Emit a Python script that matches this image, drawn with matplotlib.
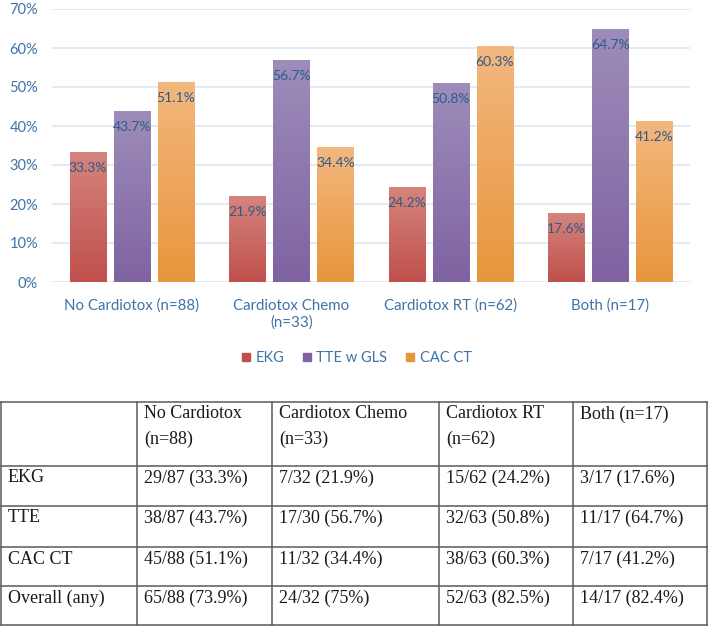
import numpy as np
import matplotlib
matplotlib.use("Agg")
import matplotlib.pyplot as plt
from matplotlib.colors import LinearSegmentedColormap
from matplotlib.patches import Patch

# Chart data
groups = ["No Cardiotox (n=88)", "Cardiotox Chemo\n(n=33)", "Cardiotox RT (n=62)", "Both (n=17)"]
series = ["EKG", "TTE w GLS", "CAC CT"]
ekg = [33.3, 21.9, 24.2, 17.6]
tte = [43.7, 56.7, 50.8, 64.7]
cac = [51.1, 34.4, 60.3, 41.2]

# Table data
col_heads = ["No Cardiotox\n(n=88)", "Cardiotox Chemo\n(n=33)", "Cardiotox RT\n(n=62)", "Both (n=17)"]
row_heads = ["EKG", "TTE", "CAC CT", "Overall (any)"]
cells = [
    ["29/87 (33.3%)", "7/32 (21.9%)", "15/62 (24.2%)", "3/17 (17.6%)"],
    ["38/87 (43.7%)", "17/30 (56.7%)", "32/63 (50.8%)", "11/17 (64.7%)"],
    ["45/88 (51.1%)", "11/32 (34.4%)", "38/63 (60.3%)", "7/17 (41.2%)"],
    ["65/88 (73.9%)", "24/32 (75%)", "52/63 (82.5%)", "14/17 (82.4%)"],
]

# gradient colours (top, bottom)
grads = [("#d5847c", "#c0504d"), ("#9d8dba", "#7f63a1"), ("#f3b77f", "#e8963b")]
txt_blue = "#3f72a9"
lab_blue = "#2e5b8a"

W, H = 709, 627
fig = plt.figure(figsize=(W / 100, H / 100), dpi=100)
ax = fig.add_axes([52 / W, 1 - 282 / H, (690 - 52) / W, (282 - 9) / H])

x = np.arange(len(groups))
bw = 0.226
step = 0.276
for i, (vals, (c_top, c_bot)) in enumerate(zip([ekg, tte, cac], grads)):
    cmap = LinearSegmentedColormap.from_list("g%d" % i, [c_bot, c_top])
    bars = ax.bar(x + (i - 1) * step, [v / 100 for v in vals], bw, color=c_bot, zorder=2)
    for b, v in zip(bars, vals):
        x0, w, h = b.get_x(), b.get_width(), b.get_height()
        grad = np.linspace(0, 1, 100).reshape(-1, 1)
        ax.imshow(grad, extent=(x0, x0 + w, 0, h), origin="lower", aspect="auto",
                  cmap=cmap, zorder=3)
        ax.text(x0 + w / 2, h - 0.04, "%.1f%%" % v, ha="center", va="center",
                color=lab_blue, fontsize=10, family="Lato", zorder=4)

ax.set_xlim(-0.5, 3.5)
ax.set_ylim(0, 0.70)
ax.set_yticks(np.arange(0, 0.71, 0.1))
ax.set_yticklabels(["%d%%" % (t * 100) for t in np.arange(0, 0.71, 0.1).round(2)])
ax.yaxis.grid(True, color="#dde6f1", linewidth=1.2, zorder=0)
ax.set_axisbelow(True)
for s in ax.spines.values():
    s.set_visible(False)
ax.tick_params(axis="both", length=0, colors=txt_blue)
ax.tick_params(axis="y", pad=10, labelsize=10.5)
ax.set_xticks(x)
ax.set_xticklabels(groups, linespacing=1.2)
ax.tick_params(axis="x", pad=12, labelsize=10.8)
for lab in ax.get_xticklabels() + ax.get_yticklabels():
    lab.set_family("Lato")

handles = [Patch(color=c[1]) for c in grads]
leg = fig.legend(handles, series, loc="center", bbox_to_anchor=(357 / W, 1 - 358 / H),
                 ncol=3, frameon=False, handlelength=0.5, handleheight=0.5,
                 handletextpad=0.4, columnspacing=1.3,
                 prop={"family": "Lato", "size": 10.5})
for t in leg.get_texts():
    t.set_color(txt_blue)

# table drawn in pixel coordinates
tax = fig.add_axes([0, 0, 1, 1])
tax.set_xlim(0, W)
tax.set_ylim(H, 0)
tax.axis("off")
col_x = [1, 137, 272, 439, 573, 707]
row_y = [402, 466, 506, 547, 586, 625]
lc = "#5a5a5a"
for cx in col_x:
    tax.plot([cx, cx], [row_y[0], row_y[-1]], color=lc, lw=1.1)
for ry in row_y:
    tax.plot([col_x[0], col_x[-1]], [ry, ry], color=lc, lw=1.1)

tfont = {"family": "Liberation Serif", "size": 13, "color": "#1a1a1a"}
for j, head in enumerate(col_heads):
    for k, line in enumerate(head.split("\n")):
        tax.text(col_x[j + 1] + 7, row_y[0] + 12 + k * 25, line, ha="left", va="center", **tfont)
for r, rh in enumerate(row_heads):
    yy = row_y[r + 1] + 12
    tax.text(col_x[0] + 7, yy, rh, ha="left", va="center", **tfont)
    for j, val in enumerate(cells[r]):
        tax.text(col_x[j + 1] + 7, yy, val, ha="left", va="center", **tfont)

fig.savefig("out.png", dpi=100)
